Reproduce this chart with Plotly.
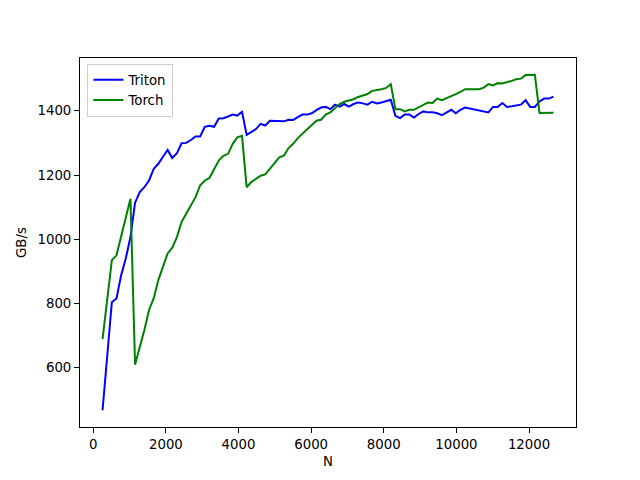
import plotly.graph_objects as go

N = [128 * i for i in range(2, 100)]

triton = [468, 636, 804, 816, 888, 940, 1007, 1114, 1147, 1162,
          1183, 1219, 1235, 1257, 1278, 1253, 1268, 1299, 1300, 1309,
          1320, 1320, 1350, 1353, 1350, 1376, 1377, 1382, 1388, 1385,
          1397, 1325, 1335, 1343, 1359, 1354, 1369, 1369, 1369, 1367,
          1372, 1371, 1380, 1388, 1388, 1392, 1402, 1410, 1412, 1405,
          1419, 1413, 1421, 1413, 1421, 1426, 1423, 1419, 1428, 1423,
          1426, 1429, 1434, 1384, 1377, 1388, 1388, 1379, 1390, 1398,
          1395, 1395, 1392, 1386, 1395, 1403, 1392, 1403, 1410, 1407,
          1405, 1403, 1400, 1395, 1412, 1412, 1424, 1412, 1414, 1416,
          1419, 1433, 1412, 1412, 1429, 1438, 1438, 1444]

torch = [689, 812, 935, 950, 1007, 1069, 1126, 610, 661, 718,
         780, 816, 873, 914, 956, 974, 1007, 1054, 1080, 1102,
         1131, 1168, 1183, 1191, 1219, 1245, 1260, 1266, 1297, 1317,
         1322, 1162, 1178, 1188, 1198, 1202, 1221, 1237, 1255, 1260,
         1284, 1297, 1315, 1328, 1343, 1357, 1369, 1372, 1388, 1395,
         1408, 1421, 1428, 1431, 1436, 1443, 1447, 1452, 1462, 1464,
         1467, 1471, 1483, 1405, 1405, 1398, 1403, 1403, 1410, 1418,
         1426, 1424, 1438, 1433, 1439, 1444, 1452, 1459, 1467, 1467,
         1467, 1467, 1472, 1483, 1479, 1486, 1485, 1488, 1493, 1498,
         1500, 1511, 1511, 1512, 1393, 1393, 1393, 1394]

x_ticks = [0, 2000, 4000, 6000, 8000, 10000, 12000]
x_labels = ["0", "2000", "4000", "6000", "8000", "10000", "12000"]
y_ticks = [600, 800, 1000, 1200, 1400]
y_labels = ["600", "800", "1000", "1200", "1400"]

fig = go.Figure()
fig.add_trace(go.Scatter(x=N, y=triton, mode="lines", name="Triton",
                         line=dict(color="#0000ff", width=2)))
fig.add_trace(go.Scatter(x=N, y=torch, mode="lines", name="Torch",
                         line=dict(color="#008000", width=2)))

xmin, xmax = min(N), max(N)
pad_x = (xmax - xmin) * 0.05
allv = triton + torch
ymin, ymax = min(allv), max(allv)
pad_y = (ymax - ymin) * 0.05

axis_common = dict(
    showgrid=False, zeroline=False, showline=True, linecolor="black",
    linewidth=1, mirror=True, ticks="outside", ticklen=5, tickwidth=1,
    tickcolor="black", tickfont=dict(family="DejaVu Sans", size=13.3, color="black"),
    automargin=False,
)

fig.update_layout(
    width=640, height=480,
    margin=dict(l=72, r=72, t=50, b=61),
    paper_bgcolor="white", plot_bgcolor="white",
    font=dict(family="DejaVu Sans", size=13.3, color="black"),
    xaxis=dict(range=[xmin - pad_x, xmax + pad_x], tickvals=x_ticks, ticktext=x_labels,
               title=dict(text="N", standoff=5, font=dict(size=13.3)), **axis_common),
    yaxis=dict(range=[ymin - pad_y, ymax + pad_y], tickvals=y_ticks, ticktext=y_labels,
               title=dict(text="GB/s", standoff=7, font=dict(size=13.3)), **axis_common),
    legend=dict(x=0.015, y=0.985, xanchor="left", yanchor="top",
                bgcolor="rgba(255,255,255,0.8)", bordercolor="#cccccc",
                borderwidth=1, font=dict(family="DejaVu Sans", size=13.3),
                tracegroupgap=0, itemwidth=30),
    showlegend=True,
)

fig.write_html("out.html")
